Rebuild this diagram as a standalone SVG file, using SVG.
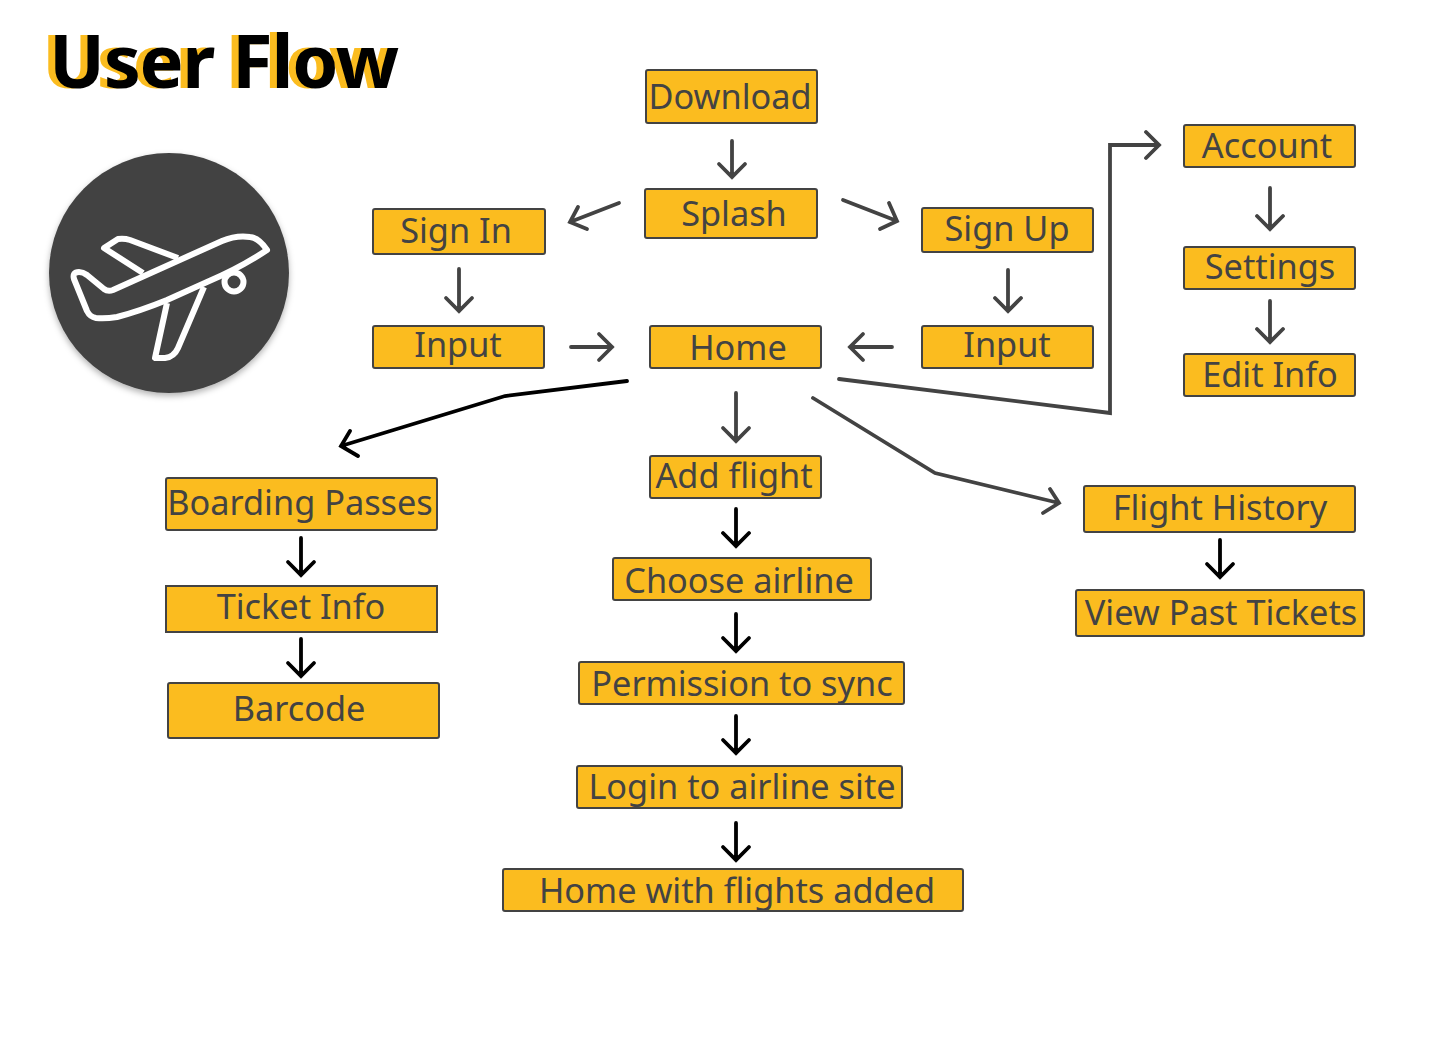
<svg xmlns="http://www.w3.org/2000/svg" width="1440" height="1038" viewBox="0 0 1440 1038">
<style>
.n{fill:#fbbc1f;stroke:#434343;stroke-width:2}
.t{font-family:"Noto Sans",sans-serif;font-size:34.3px;fill:#434343;text-anchor:middle}
.h{font-family:"Noto Sans",sans-serif;font-size:74px;font-weight:700;letter-spacing:-1.3px}
.c{fill:none;stroke:#434343;stroke-width:3.8;stroke-linecap:round;stroke-linejoin:miter}
.k{stroke:#000}
.p{fill:none;stroke:#fff;stroke-width:6;stroke-linejoin:round}
</style>
<defs><filter id="s" x="-20%" y="-20%" width="140%" height="140%"><feDropShadow dx="0" dy="3" stdDeviation="3" flood-color="#000" flood-opacity=".3"/></filter></defs>
<rect width="1440" height="1038" fill="#fff"/>
<g id="title"><text class="h" x="42" y="88" fill="#fbbc1f">User Flow</text><text class="h" x="49" y="88" fill="#000">User Flow</text></g>
<g id="logo"><circle cx="169" cy="273" r="120" fill="#434343" filter="url(#s)"/>
<path class="p" d="M74 279Q72 272 79 272Q83 272 87 275L104 289Q108 292 113 290L222 241Q236 235 250 237Q259 238 267 250Q240 268 207 282L167 300Q140 311 117 317Q105 319 96 318Q90 317 87 311Z"/>
<path class="p" d="M143 273L104 248L118 239Q124 238 130 240L178 258"/>
<path class="p" d="M167 303L155 358L165 358Q174 357 178 348L204 287"/>
<circle class="p" cx="234" cy="282" r="9.5"/></g>
<g id="connectors">
<path class="c" d="M732 141V177M719 164L732 177L745 164"/>
<path class="c" d="M619 203L570 222M578 207L570 222L587 229"/>
<path class="c" d="M843 200L897 221M880 229L897 221L889 203"/>
<path class="c" d="M459 269V311M446 298L459 311L472 298"/>
<path class="c" d="M1008 270V311M995 298L1008 311L1021 298"/>
<path class="c" d="M571 347H612M599 334L612 347L599 360"/>
<path class="c" d="M892 347H850M863 334L850 347L863 360"/>
<path class="c" d="M839 379L1110 413V145H1159M1146 132L1159 145L1146 158"/>
<path class="c" d="M1270 188V229M1257 216L1270 229L1283 216"/>
<path class="c" d="M1270 301V342M1257 329L1270 342L1283 329"/>
<path class="c" d="M736 393V441M723 428L736 441L749 428"/>
<path class="c" d="M813 398L935 473L1059 503M1043 513L1059 503L1050 489"/>
<path class="c k" d="M627 381L505 396L341 446M350 431L341 446L358 456"/>
<path class="c k" d="M301 538V575M288 562L301 575L314 562"/>
<path class="c k" d="M301 639V676M288 663L301 676L314 663"/>
<path class="c k" d="M736 509V546M723 533L736 546L749 533"/>
<path class="c k" d="M736 614V651M723 638L736 651L749 638"/>
<path class="c k" d="M736 716V753M723 740L736 753L749 740"/>
<path class="c k" d="M736 823V860M723 847L736 860L749 847"/>
<path class="c k" d="M1220 540V577M1207 564L1220 577L1233 564"/>
</g>
<g id="download"><rect class="n" x="646" y="70" width="171" height="53" rx="2"/><text class="t" x="730" y="109">Download</text></g>
<g id="splash"><rect class="n" x="645" y="189" width="172" height="49" rx="2"/><text class="t" x="734" y="226">Splash</text></g>
<g id="signin"><rect class="n" x="373" y="209" width="172" height="45" rx="2"/><text class="t" x="456" y="243">Sign In</text></g>
<g id="signup"><rect class="n" x="922" y="208" width="171" height="44" rx="2"/><text class="t" x="1007" y="241">Sign Up</text></g>
<g id="input1"><rect class="n" x="373" y="326" width="171" height="42" rx="2"/><text class="t" x="458" y="357">Input</text></g>
<g id="home"><rect class="n" x="650" y="326" width="171" height="42" rx="2"/><text class="t" x="738" y="360">Home</text></g>
<g id="input2"><rect class="n" x="922" y="326" width="171" height="42" rx="2"/><text class="t" x="1007" y="357">Input</text></g>
<g id="account"><rect class="n" x="1184" y="125" width="171" height="42" rx="2"/><text class="t" x="1267" y="158">Account</text></g>
<g id="settings"><rect class="n" x="1184" y="247" width="171" height="42" rx="2"/><text class="t" x="1270" y="279">Settings</text></g>
<g id="editinfo"><rect class="n" x="1184" y="354" width="171" height="42" rx="2"/><text class="t" x="1270" y="387">Edit Info</text></g>
<g id="boarding"><rect class="n" x="166" y="478" width="271" height="52" rx="2"/><text class="t" x="300" y="515">Boarding Passes</text></g>
<g id="ticket"><rect class="n" x="166" y="586" width="271" height="46"/><text class="t" x="301" y="619">Ticket Info</text></g>
<g id="barcode"><rect class="n" x="168" y="683" width="271" height="55" rx="2"/><text class="t" x="299" y="721">Barcode</text></g>
<g id="addflight"><rect class="n" x="650" y="456" width="171" height="42" rx="2"/><text class="t" x="734" y="488">Add flight</text></g>
<g id="airline"><rect class="n" x="613" y="558" width="258" height="42" rx="2"/><text class="t" x="739" y="593">Choose airline</text></g>
<g id="permission"><rect class="n" x="579" y="662" width="325" height="42" rx="2"/><text class="t" x="742" y="696">Permission to sync</text></g>
<g id="login"><rect class="n" x="577" y="766" width="325" height="42" rx="2"/><text class="t" x="742" y="799">Login to airline site</text></g>
<g id="homeflights"><rect class="n" x="503" y="869" width="460" height="42" rx="2"/><text class="t" x="737" y="903">Home with flights added</text></g>
<g id="history"><rect class="n" x="1084" y="486" width="271" height="46" rx="2"/><text class="t" x="1220" y="520">Flight History</text></g>
<g id="past"><rect class="n" x="1076" y="590" width="288" height="46" rx="2"/><text class="t" x="1221" y="625">View Past Tickets</text></g>
</svg>
